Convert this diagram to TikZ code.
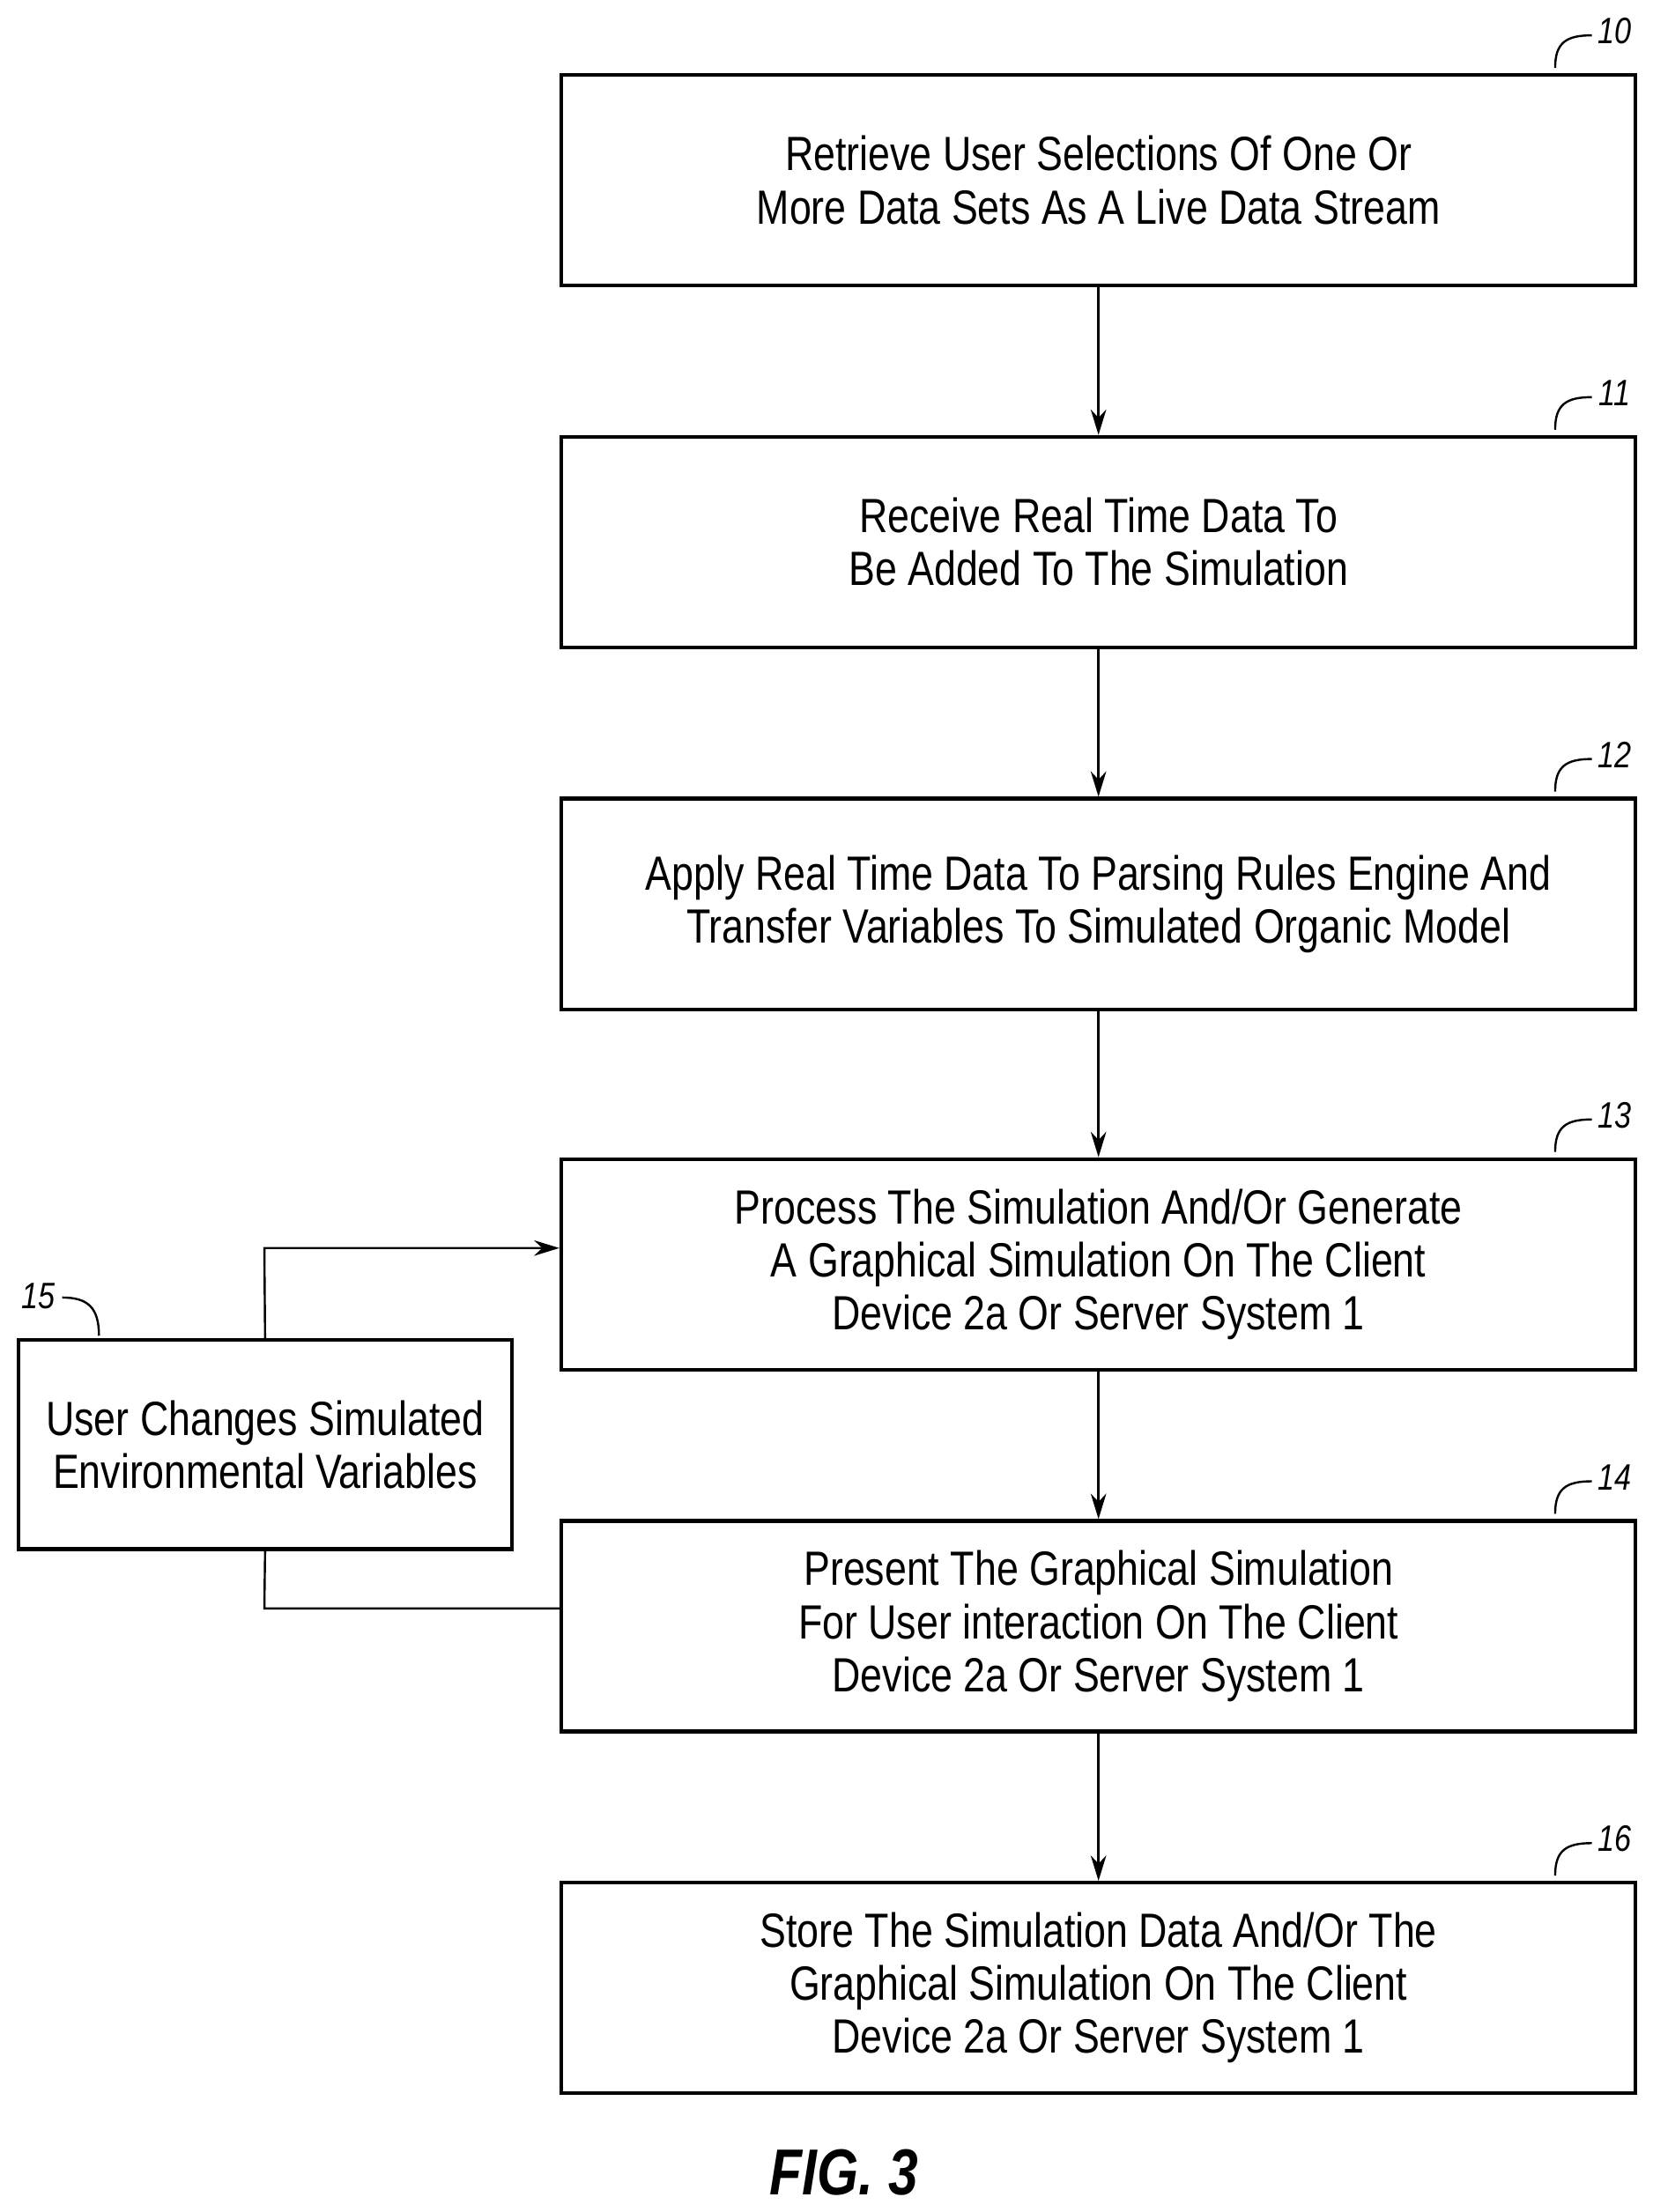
\documentclass[tikz,border=0pt]{standalone}
\usepackage{fontspec}
\setmainfont{Liberation Sans}[FakeStretch=0.82]
\usetikzlibrary{arrows.meta}
\begin{document}
\begin{tikzpicture}[x=1pt,y=-1pt,
 box/.style={draw,line width=2.6pt,minimum width=760pt,minimum height=149pt,align=center,inner sep=0pt,font=\fontsize{34}{37.5}\selectfont},
 lbl/.style={font=\fontsize{26}{28}\selectfont\itshape},
 arr/.style={line width=1.5pt,-{Stealth[length=18pt,width=11pt]}}]
\useasboundingbox (0,0) rectangle (1169,1565);
\node[box] (b10) at (777,127.5) {Retrieve User Selections Of One Or\\More Data Sets As A Live Data Stream};
\node[box] (b11) at (777,383.5) {Receive Real Time Data To\\Be Added To The Simulation};
\node[box] (b12) at (777,639.5) {Apply Real Time Data To Parsing Rules Engine And\\Transfer Variables To Simulated Organic Model};
\node[box] (b13) at (777,894.5) {Process The Simulation And/Or Generate\\A Graphical Simulation On The Client\\Device 2a Or Server System 1};
\node[box] (b14) at (777,1150.5) {Present The Graphical Simulation\\For User interaction On The Client\\Device 2a Or Server System 1};
\node[box] (b16) at (777,1406.5) {Store The Simulation Data And/Or The\\Graphical Simulation On The Client\\Device 2a Or Server System 1};
\node[box,minimum width=349pt,minimum height=148pt] (b15) at (187.5,1022) {User Changes Simulated\\Environmental Variables};
\draw[arr] (b10) -- (b11);
\draw[arr] (b11) -- (b12);
\draw[arr] (b12) -- (b13);
\draw[arr] (b13) -- (b14);
\draw[arr] (b14) -- (b16);
\coordinate (c1) at (187,883);
\coordinate (c2) at (187,1138);
\draw[arr] (b15.north) -- (c1) -- (b13.west |- c1);
\draw[line width=1.5pt] (b14.west |- c2) -- (c2) -- (b15.south);
\foreach \n/\y in {10/0,11/256,12/512,13/767,14/1023,16/1279}{
 \node[lbl] (l\n) at (1142,22+\y) {\n};
 \draw[line width=1.5pt] (1100,48+\y) .. controls (1100,30+\y) and (1108,25+\y) .. (1126,25+\y);
}
\node[lbl] (l15) at (27,917) {15};
\draw[line width=1.5pt] (44,918) .. controls (62,918) and (70,925) .. (70,945);
\node[font=\fontsize{46}{50}\selectfont\bfseries\itshape] (fig) at (597,1537) {FIG. 3};
\end{tikzpicture}
\end{document}
